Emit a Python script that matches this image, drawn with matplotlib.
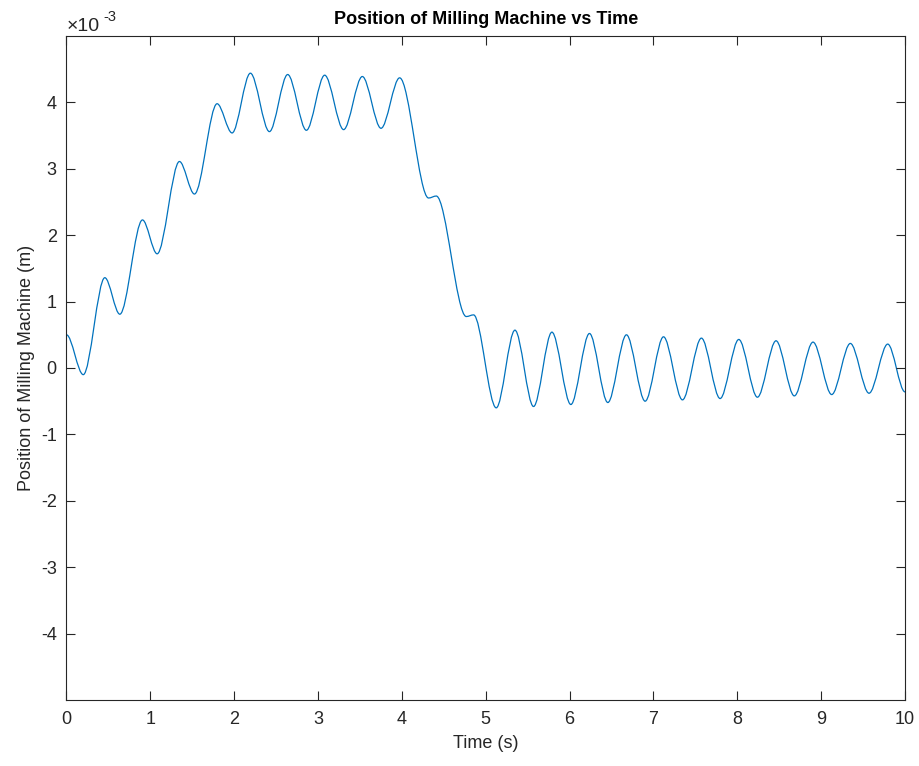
import matplotlib
matplotlib.use("Agg")
import matplotlib.pyplot as plt
from matplotlib.path import Path
from matplotlib.patches import PathPatch

plt.rcParams['font.family'] = ['Liberation Sans', 'DejaVu Sans']

# turning points of the response (time in s, position in 1e-3 m)
t_pts = [0.0, 0.20, 0.457, 0.636, 0.906, 1.081, 1.347, 1.526, 1.796, 1.975,
         2.193, 2.42, 2.638, 2.861, 3.079, 3.305, 3.528, 3.751, 3.973,
         4.318, 4.41, 4.768, 4.855, 5.125, 5.348, 5.57, 5.789, 6.015, 6.237,
         6.456, 6.678, 6.901, 7.12, 7.346, 7.572, 7.795, 8.018, 8.24, 8.462,
         8.68, 8.903, 9.126, 9.348, 9.571, 9.794, 10.0]
pos_pts = [0.50, -0.10, 1.36, 0.81, 2.23, 1.72, 3.11, 2.62, 3.98, 3.54,
           4.44, 3.56, 4.42, 3.58, 4.41, 3.59, 4.39, 3.61, 4.37,
           2.56, 2.59, 0.775, 0.80, -0.60, 0.57, -0.58, 0.54, -0.55, 0.52,
           -0.52, 0.50, -0.50, 0.47, -0.48, 0.45, -0.46, 0.43, -0.44, 0.41,
           -0.42, 0.39, -0.40, 0.37, -0.38, 0.36, -0.36]

x_ticks = list(range(0, 11))
y_ticks = list(range(-4, 5))

fig = plt.figure(figsize=(9.2, 7.66), dpi=100)
ax = fig.add_axes([66.5 / 920, 66 / 766, (905 - 66.5) / 920, (700 - 36) / 766])

# smooth curve: cubic segments with flat tangents at each turning point
verts = [(t_pts[0], pos_pts[0])]
codes = [Path.MOVETO]
for i in range(len(t_pts) - 1):
    dt = t_pts[i + 1] - t_pts[i]
    verts += [(t_pts[i] + dt / 3, pos_pts[i]),
              (t_pts[i + 1] - dt / 3, pos_pts[i + 1]),
              (t_pts[i + 1], pos_pts[i + 1])]
    codes += [Path.CURVE4] * 3
ax.add_patch(PathPatch(Path(verts, codes), fill=False, edgecolor='#0072BD', lw=0.9))

ax.set_xlim(0, 10)
ax.set_ylim(-5, 5)
ax.set_xticks(x_ticks)
ax.set_yticks(y_ticks)
ax.set_xticklabels([str(v) for v in x_ticks])
ax.set_yticklabels([str(v) for v in y_ticks])

dark = '#262626'
for s in ax.spines.values():
    s.set_color(dark)
    s.set_linewidth(0.8)
ax.tick_params(direction='in', length=6.5, width=0.8, color=dark, labelcolor=dark,
               labelsize=13, top=True, right=True)
ax.tick_params(axis='x', pad=8)
ax.tick_params(axis='y', pad=7)

ax.set_title('Position of Milling Machine vs Time', fontsize=13, fontweight='bold', pad=9)
ax.set_xlabel('Time (s)', fontsize=13, color=dark, labelpad=5)
ax.set_ylabel('Position of Milling Machine (m)', fontsize=13, color=dark, labelpad=4)

# exponent label in the MATLAB style
fig.text(67 / 920, 1 - 31 / 766, '\u00d710', fontsize=14, color=dark,
         ha='left', va='baseline')
fig.text(103 / 920, 1 - 10 / 766, '-3', fontsize=10.5, color=dark,
         ha='left', va='top')

fig.savefig('out.png', dpi=100)
